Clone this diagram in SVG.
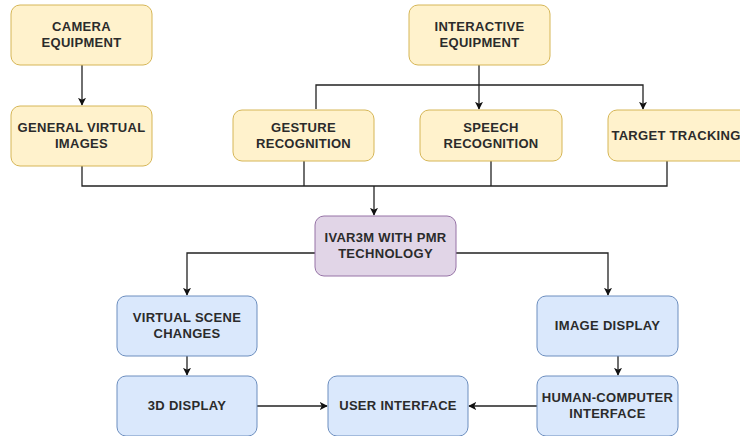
<svg xmlns="http://www.w3.org/2000/svg" width="740" height="436" viewBox="0 0 740 436">
<defs>
<style>
.y{fill:#fff2cc;stroke:#d6b656;stroke-width:1}
.b{fill:#dae8fc;stroke:#6c8ebf;stroke-width:1}
.p{fill:#e1d5e7;stroke:#9673a6;stroke-width:1}
text{font-family:"Liberation Sans",Arial,sans-serif;font-size:13px;font-weight:bold;fill:#2b2b2b;text-anchor:middle;letter-spacing:0.3px}
.c path{fill:none;stroke:#222;stroke-width:1.3}
</style>
<marker id="a" viewBox="0 0 10 10" refX="9" refY="5" markerWidth="8" markerHeight="8" markerUnits="userSpaceOnUse" orient="auto">
<path d="M0,0 L10,5 L0,10 L2.5,5 Z" fill="#111"/>
</marker>
</defs>
<rect width="740" height="436" fill="#fff"/>
<g class="c">
<path d="M82,65 V105" marker-end="url(#a)"/>
<path d="M479,65 V109" marker-end="url(#a)"/>
<path d="M316,109 V85 H643 V109" marker-end="url(#a)"/>
<path d="M82,166 V186 H667 V161"/>
<path d="M304,161 V186"/>
<path d="M491,161 V186"/>
<path d="M374,186 V215" marker-end="url(#a)"/>
<path d="M315,253 H187 V295" marker-end="url(#a)"/>
<path d="M456,253 H608 V295" marker-end="url(#a)"/>
<path d="M187,356 V375" marker-end="url(#a)"/>
<path d="M618,356 V375" marker-end="url(#a)"/>
<path d="M257,406 H327" marker-end="url(#a)"/>
<path d="M537,406 H469" marker-end="url(#a)"/>
</g>
<g id="camera"><rect class="y" x="11" y="5" width="141" height="60" rx="9"/><text x="81.5" y="31">CAMERA</text><text x="81.5" y="47">EQUIPMENT</text></g>
<g id="interactive"><rect class="y" x="409" y="5" width="141" height="60" rx="9"/><text x="479.5" y="31">INTERACTIVE</text><text x="479.5" y="47">EQUIPMENT</text></g>
<g id="general"><rect class="y" x="11" y="106" width="141" height="60" rx="9"/><text x="81.5" y="132">GENERAL VIRTUAL</text><text x="81.5" y="148">IMAGES</text></g>
<g id="gesture"><rect class="y" x="233" y="110" width="141" height="51" rx="9"/><text x="303.5" y="132">GESTURE</text><text x="303.5" y="148">RECOGNITION</text></g>
<g id="speech"><rect class="y" x="420" y="110" width="142" height="51" rx="9"/><text x="491" y="132">SPEECH</text><text x="491" y="148">RECOGNITION</text></g>
<g id="target"><rect class="y" x="608" y="110" width="142" height="51" rx="9"/><text x="676" y="140">TARGET TRACKING</text></g>
<g id="ivar"><rect class="p" x="315" y="216" width="141" height="60" rx="9"/><text x="385.5" y="242">IVAR3M WITH PMR</text><text x="385.5" y="258">TECHNOLOGY</text></g>
<g id="vsc"><rect class="b" x="117" y="296" width="140" height="60" rx="9"/><text x="187" y="322">VIRTUAL SCENE</text><text x="187" y="338">CHANGES</text></g>
<g id="imgdisp"><rect class="b" x="537" y="296" width="141" height="60" rx="9"/><text x="607.5" y="330">IMAGE DISPLAY</text></g>
<g id="display3d"><rect class="b" x="117" y="376" width="140" height="60" rx="9"/><text x="187" y="410">3D DISPLAY</text></g>
<g id="ui"><rect class="b" x="328" y="376" width="140" height="60" rx="9"/><text x="398" y="410">USER INTERFACE</text></g>
<g id="hci"><rect class="b" x="537" y="376" width="141" height="60" rx="9"/><text x="607.5" y="402">HUMAN-COMPUTER</text><text x="607.5" y="418">INTERFACE</text></g>
</svg>
